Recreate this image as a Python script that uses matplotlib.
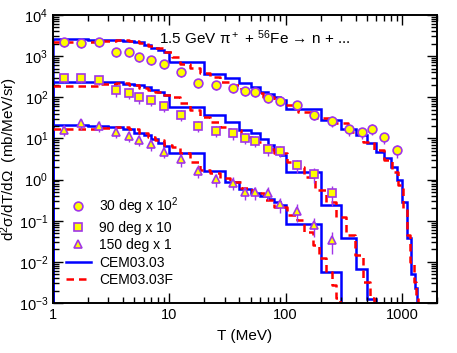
import numpy as np
import matplotlib
matplotlib.use('Agg')
from matplotlib import pyplot as plt
from matplotlib.ticker import LogLocator, NullFormatter

plt.rcParams['font.family'] = ['Liberation Sans', 'DejaVu Sans']
plt.rcParams['mathtext.fontset'] = 'custom'
plt.rcParams['mathtext.rm'] = 'Liberation Sans'
plt.rcParams['mathtext.it'] = 'Liberation Sans:italic'

# measured points (T in MeV)
T_exp = [1.25, 1.75, 2.5, 3.5, 4.5, 5.5, 7, 9, 12.5, 17.5, 25, 35, 45, 55,
         70, 90, 125, 175, 250, 350, 450, 550, 700, 900]
deg30 = [2170, 2050, 2170, 1240, 1240, 937, 793, 634, 412, 226, 202, 171,
         145, 134, 94.4, 79.8, 64.9, 37.1, 27.0, 16.7, 14.1, 16.9, 10.6, 5.24]
deg90 = [289, 299, 263, 148, 127, 100, 86, 61.4, 37.1, 20.0, 15.4, 13.3,
         10.2, 8.65, 5.44, 4.95, 2.26, 1.37, 0.463]
deg150 = [16.0, 23.3, 20.0, 14.3, 11.5, 9.16, 7.20, 4.76, 3.11, 1.64, 1.01,
          0.84, 0.485, 0.485, 0.48, 0.255, 0.172, 0.0786, 0.034]
err30 = [0.25, 0.25, 0.25, 0.25, 0.25, 0.25, 0.25, 0.25, 0.25, 0.25, 0.25, 0.25,
         0.25, 0.25, 0.25, 0.25, 0.25, 0.25, 0.3, 0.3, 0.3, 0.3, 0.3, 0.35]
err90 = [0.25, 0.25, 0.25, 0.3, 0.3, 0.3, 0.3, 0.3, 0.3, 0.3, 0.3, 0.3,
         0.3, 0.3, 0.3, 0.3, 0.35, 0.4, 0.5]
err150 = [0.3, 0.3, 0.3, 0.3, 0.3, 0.3, 0.3, 0.3, 0.35, 0.35, 0.35, 0.35,
          0.35, 0.35, 0.35, 0.4, 0.45, 0.5, 0.55]

# CEM03.03 histograms
edges = [1, 2, 3, 4, 5, 6, 7, 8, 9, 10, 20, 30, 40, 50, 60, 70, 80, 90, 100,
         200, 300, 400, 500, 600, 700, 800, 900, 1000, 1100, 1200, 1300, 1350]
cem30 = [2570, 2470, 2470, 2270, 2150, 1870, 1580, 1410, 1260,
         721, 362, 286, 222, 178, 138, 117, 102, 86,
         51.9, 28.1, 16.7, 11.8, 7.6, 4.75, 3.29, 2.05, 0.975,
         0.290, 0.0373, 0.00498, 0.00235]
cem90 = [239, 235, 229, 216, 199, 178, 150, 131, 114,
         59, 37.1, 24.7, 16.0, 13.2, 9.69, 6.92, 5.23, 3.95,
         1.55, 0.241, 0.0386, 0.0067, 0.00125]
cem150 = [21.2, 20.0, 18.6, 16.7, 13.8, 12.1, 9.52, 7.87, 6.55,
          4.35, 1.64, 0.873, 0.590, 0.471, 0.398, 0.337, 0.285, 0.241,
          0.0818, 0.00557]

# CEM03.03F
Tf30 = [1, 2, 3, 4, 5, 6, 7, 8, 10, 11.1, 13.5, 16.5, 20.1, 24.4, 30.4, 36.3,
        45.7, 57.5, 70, 88, 107, 149, 207, 288, 400, 520, 634, 772, 881, 972,
        1074, 1146, 1222, 1308, 1349, 1400]
f30 = [2150, 2210, 2330, 2400, 2270, 2080, 1810, 1580, 1260, 937, 634, 506,
       396, 316, 239, 199, 156, 125, 103, 81.3, 64.9, 44.7, 31.9, 23.3, 14.6,
       8.3, 5.23, 2.99, 1.55, 0.738, 0.20, 0.0449, 0.0101, 0.00329, 0.0013,
       0.0003]
Tf90 = [1, 2, 3, 4, 5, 6, 7, 8, 10, 11.1, 13.5, 16.5, 20.1, 24.4, 30.4, 36.3,
        45.7, 57.5, 72.3, 88, 118.5, 131, 159, 201, 244, 298, 363, 428, 504,
        556, 600]
f90 = [191, 193, 210, 219, 199, 168, 150, 131, 114, 103, 71.4, 49.1, 33.7,
       25.5, 19.3, 16.0, 11.0, 8.32, 5.53, 4.35, 2.72, 2.05, 1.17, 0.557,
       0.290, 0.125, 0.0449, 0.0147, 0.00329, 0.0013, 0.0005]
Tf150 = [1, 2, 3, 4, 5, 6, 7, 8, 10, 11.1, 13.5, 16.5, 20.1, 24.4, 30.4, 36.3,
         45.7, 57.5, 72.3, 88, 118.5, 131, 159, 182, 207, 237, 261, 284, 300]
f150 = [16.7, 16.9, 18.4, 19.0, 16.9, 13.9, 10.8, 9.16, 6.92, 6.29, 4.35,
        2.72, 1.71, 1.42, 1.07, 0.858, 0.614, 0.464, 0.318, 0.219, 0.138,
        0.104, 0.054, 0.0257, 0.0122, 0.00575, 0.00274, 0.0013, 0.0006]

x_ticks = [1, 10, 100, 1000]
x_ticklabels = ['1', '10', '100', '1000']
y_exps = [-3, -2, -1, 0, 1, 2, 3, 4]

purple = '#a035e8'
fig = plt.figure(figsize=(4.57, 3.53), dpi=100)
ax = fig.add_axes([0.116, 0.1416, 0.840, 0.816])

# histograms
for vals in [cem30, cem90, cem150]:
    ax.stairs(vals, edges[:len(vals) + 1], baseline=1e-7, color='#0000ff', lw=1.8)

for t, f in [(Tf30, f30), (Tf90, f90), (Tf150, f150)]:
    ax.plot(t, f, color='#ff0000', lw=1.8, ls=(0, (3, 2)), drawstyle='steps-mid')

markers = [('o', deg30, err30, '30 deg x 10$^2$'),
           ('s', deg90, err90, '90 deg x 10'),
           ('^', deg150, err150, '150 deg x 1')]
handles = []
for m, y, e, lab in markers:
    x = T_exp[:len(y)]
    ax.errorbar(x, y, yerr=np.array(e) * np.array(y), fmt='none',
                ecolor=purple, elinewidth=1, capsize=0, zorder=4)
    h, = ax.plot(x, y, m, ms=6.3, mfc='#ffff00', mec=purple, mew=1.2,
                 ls='none', zorder=5, label=lab)
    handles.append(h)
blue_h, = ax.plot([], [], color='#0000ff', lw=1.8)
red_h, = ax.plot([], [], color='#ff0000', lw=1.8, ls=(0, (3, 2)))

ax.set_xscale('log')
ax.set_yscale('log')
ax.set_xlim(1, 2000)
ax.set_ylim(1e-3, 1e4)

ax.set_yticks([10.0 ** e for e in y_exps])
ax.set_yticklabels(['$10^{%d}$' % e for e in y_exps])
ax.yaxis.set_minor_locator(LogLocator(base=10, subs=np.arange(2, 10), numticks=20))
ax.yaxis.set_minor_formatter(NullFormatter())
ax.set_xticks(x_ticks)
ax.set_xticklabels(x_ticklabels)
ax.xaxis.set_minor_locator(LogLocator(base=10, subs=np.arange(2, 10), numticks=20))
ax.xaxis.set_minor_formatter(NullFormatter())
ax.set_xlim(1, 2000)
ax.set_ylim(1e-3, 1e4)
ax.tick_params(which='both', direction='in', top=True, right=True, labelsize=10.5)
ax.tick_params(which='major', length=7, width=1)
ax.tick_params(which='minor', length=4, width=1)
for s in ax.spines.values():
    s.set_linewidth(1.4)

ax.set_xlabel('T (MeV)', fontsize=11)
ax.xaxis.set_label_coords(0.5, -0.09)
ax.set_ylabel(r'd$^2\mathrm{\sigma}$/dT/d$\mathrm{\Omega}$  (mb/MeV/sr)', fontsize=11)
ax.yaxis.set_label_coords(-0.085, 0.5)
ax.text(0.526, 0.92, r'1.5 GeV $\mathrm{\pi}^+$ + $^{56}$Fe → n + ...',
        transform=ax.transAxes, ha='center', va='center', fontsize=11)

ax.legend(handles + [blue_h, red_h],
          [h.get_label() for h in handles] + ['CEM03.03', 'CEM03.03F'],
          loc='lower left', bbox_to_anchor=(0.0, 0.012), frameon=False,
          fontsize=10, handlelength=1.8, labelspacing=0.25, handletextpad=0.6)

plt.savefig('out.png', dpi=100)
